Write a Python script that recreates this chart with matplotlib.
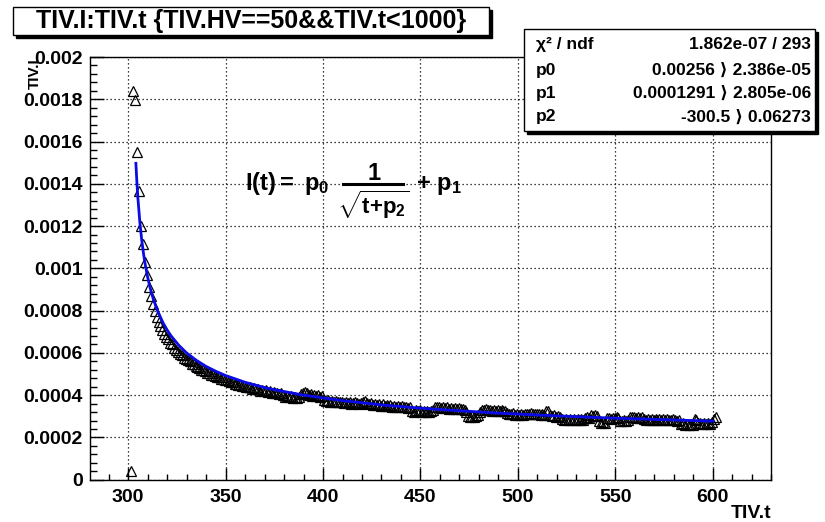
import numpy as np
import matplotlib
matplotlib.use("Agg")
import matplotlib.pyplot as plt
from matplotlib.patches import Rectangle
from matplotlib.lines import Line2D
from matplotlib.ticker import MultipleLocator, FixedLocator, FixedFormatter

plt.rcParams['font.family'] = ['Liberation Sans', 'DejaVu Sans']
plt.rcParams['font.weight'] = 'bold'
plt.rcParams['mathtext.fontset'] = 'custom'
plt.rcParams['mathtext.rm'] = 'Liberation Sans:bold'
plt.rcParams['mathtext.it'] = 'Liberation Sans:bold'
plt.rcParams['mathtext.bf'] = 'Liberation Sans:bold'

# ---------------- data ----------------
title = "TIV.I:TIV.t {TIV.HV==50&&TIV.t<1000}"
x_title = "TIV.t"
y_title = "TIV.I"

t_first = 301.6          # first sample time
t_step = 1.0             # one sample per second
# measured current, in units of 1e-6
current_e6 = [
    40, 1840, 1797, 1550, 1364, 1201, 1116, 1032, 968,
    910, 868, 830, 797, 770, 748, 728, 706, 690, 676,
    664, 648, 640, 625, 613, 606, 594, 588, 577, 571,
    566, 560, 549, 548, 538, 532, 530, 520, 518, 512,
    506, 505, 497, 494, 490, 485, 484, 478, 477, 470,
    470, 465, 462, 461, 455, 455, 449, 449, 443, 444,
    440, 437, 438, 430, 433, 428, 430, 422, 425, 421,
    423, 416, 419, 411, 414, 409, 410, 404, 409, 400,
    392, 396, 390, 394, 388, 392, 386, 391, 404, 412,
    414, 408, 402, 404, 398, 401, 396, 399, 392, 394,
    378, 374, 377, 370, 373, 368, 372, 366, 370, 367,
    365, 368, 362, 366, 360, 364, 369, 365, 360, 362,
    366, 372, 364, 358, 362, 355, 360, 353, 358, 351,
    356, 350, 354, 348, 353, 346, 351, 344, 350, 345,
    348, 342, 346, 340, 344, 326, 322, 329, 324, 328,
    322, 327, 321, 326, 320, 324, 330, 345, 342, 346,
    340, 344, 337, 342, 336, 340, 334, 339, 335, 337,
    333, 336, 329, 322, 300, 298, 302, 296, 301, 305,
    322, 331, 328, 333, 329, 330, 326, 331, 327, 329,
    325, 328, 323, 326, 316, 312, 309, 314, 308, 312,
    307, 311, 305, 309, 313, 310, 315, 311, 313, 309,
    312, 308, 311, 307, 326, 323, 305, 300, 304, 299,
    302, 297, 288, 284, 289, 283, 287, 282, 286, 281,
    285, 282, 286, 283, 292, 296, 292, 305, 303, 307,
    302, 276, 270, 274, 268, 290, 294, 289, 293, 292,
    295, 290, 280, 278, 282, 277, 281, 297, 295, 299,
    294, 298, 293, 296, 286, 283, 288, 284, 287, 283,
    286, 282, 287, 283, 285, 281, 286, 282, 284, 286,
    283, 280, 284, 262, 266, 260, 264, 259, 263, 261,
    288, 284, 270, 266, 264, 268, 263, 267, 265, 272,
    285, 297,
]

# fit curve (t, current in 1e-6)
fit_t = [304, 304.5, 305, 306, 307, 308, 309, 310, 311, 312, 313, 315, 318,
         320, 322, 326, 330, 335, 340, 345, 350, 360, 370, 375, 390, 410,
         430, 445, 460, 490, 520, 550, 575, 600]
fit_e6 = [1497, 1409, 1336, 1221, 1133, 1064, 1007, 960, 919, 884, 853, 801,
          741, 709, 681, 636, 600, 565, 536, 513, 493, 461, 436, 426, 400,
          374, 354, 342, 332, 315, 302, 291, 284, 277]

stats_rows = [
    ("χ² / ndf", "1.862e-07 / 293"),
    ("p0", "0.00256 ⟩ 2.386e-05"),
    ("p1", "0.0001291 ⟩ 2.805e-06"),
    ("p2", "-300.5 ⟩ 0.06273"),
]

x_major = [300, 350, 400, 450, 500, 550, 600]
y_major = [0, 0.0002, 0.0004, 0.0006, 0.0008, 0.001, 0.0012, 0.0014,
           0.0016, 0.0018, 0.002]
y_labels = ["0", "0.0002", "0.0004", "0.0006", "0.0008", "0.001", "0.0012",
            "0.0014", "0.0016", "0.0018", "0.002"]

# ---------------- figure ----------------
W, H = 825, 522
fig = plt.figure(figsize=(W / 100, H / 100), dpi=100)
fig.patch.set_facecolor('white')

def fx(px):
    return px / W

def fy(py):
    return 1 - py / H

ax_l, ax_r, ax_t, ax_b = 89.7, 771.5, 57.0, 479.7
ax = fig.add_axes([fx(ax_l), fy(ax_b), fx(ax_r - ax_l), (ax_b - ax_t) / H])

t = t_first + t_step * np.arange(len(current_e6))
cur = np.array(current_e6) * 1e-6

ax.plot(t, cur, ls='none', marker='^', mfc='none', mec='black', ms=7.5,
        mew=0.9, zorder=3)
ax.plot(fit_t, np.array(fit_e6) * 1e-6, color='#0a0ae6', lw=2.0, zorder=4)

ax.set_xlim(280.3, 630.1)
ax.set_ylim(0, 0.002)

ax.xaxis.set_major_locator(FixedLocator(x_major))
ax.xaxis.set_minor_locator(MultipleLocator(10))
ax.yaxis.set_major_locator(FixedLocator(y_major))
ax.yaxis.set_major_formatter(FixedFormatter(y_labels))
ax.yaxis.set_minor_locator(MultipleLocator(0.00004))

ax.tick_params(axis='both', which='both', direction='in', top=False,
               right=False, color='black', width=1.0, labelsize=14)
ax.tick_params(axis='y', which='major', length=10, pad=5)
ax.tick_params(axis='y', which='minor', length=5)
ax.tick_params(axis='x', which='major', length=9, pad=7)
ax.tick_params(axis='x', which='minor', length=4.5)
for lab in ax.get_xticklabels() + ax.get_yticklabels():
    lab.set_fontweight('bold')

ax.grid(True, which='major', color='black', lw=0.9, ls=(0, (1, 2.2)),
        zorder=1)
for s in ax.spines.values():
    s.set_linewidth(1.0)
    s.set_color('black')

# axis titles
fig.text(fx(ax_r), fy(513), x_title, ha='right', va='center', fontsize=14,
         fontweight='bold')
fig.text(fx(35), fy(58), y_title, ha='center', va='top', rotation=90,
         fontsize=11, fontweight='bold', zorder=0)

# formula, built from pieces
fs_f = 17
fig.text(fx(245), fy(190), r'$I(t){=}\ p_{0}$', ha='left', va='baseline',
         fontsize=fs_f)
fig.text(fx(374), fy(180), '1', ha='center', va='baseline', fontsize=fs_f,
         fontweight='bold')
fig.lines.append(Line2D([fx(343), fx(403)], [fy(183.5), fy(183.5)],
                        transform=fig.transFigure, color='black', lw=2.2))
fig.text(fx(373), fy(214), r'$\sqrt{t{+}p_{2}}$', ha='center',
         va='baseline', fontsize=16)
fig.text(fx(416), fy(190), r'$+\ p_{1}$', ha='left', va='baseline',
         fontsize=fs_f)

# boxes with shadow
def shadow_box(x0, y0, x1, y1, sh=3):
    fig.patches.append(Rectangle((fx(x0 + sh), fy(y1 + sh)),
                                 fx(x1 - x0), (y1 - y0) / H,
                                 transform=fig.transFigure,
                                 facecolor='black', edgecolor='black',
                                 zorder=5))
    fig.patches.append(Rectangle((fx(x0), fy(y1)), fx(x1 - x0),
                                 (y1 - y0) / H, transform=fig.transFigure,
                                 facecolor='white', edgecolor='black',
                                 lw=1.0, zorder=6))

shadow_box(12.7, 6.7, 489, 34.5)
fig.text(fx(251), fy(21), title, ha='center', va='center', fontsize=18,
         fontweight='bold', zorder=7)

shadow_box(524, 29.3, 815, 130.5)
row_base = [49.3, 74.6, 98.0, 121.5]
for (lab, val), yb in zip(stats_rows, row_base):
    fig.text(fx(536), fy(yb), lab, ha='left', va='baseline', fontsize=12.5,
             fontweight='bold', zorder=7)
    fig.text(fx(811), fy(yb), val, ha='right', va='baseline', fontsize=12.5,
             fontweight='bold', zorder=7)

fig.savefig('out.png', dpi=100, facecolor='white')
